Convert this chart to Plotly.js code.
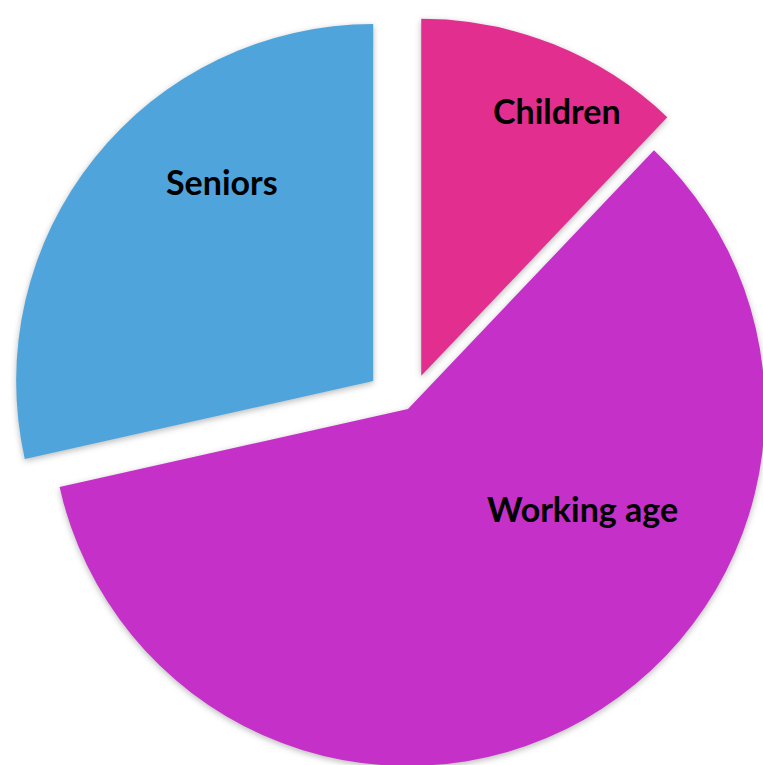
<!DOCTYPE html>
<html><head><meta charset="utf-8">
<script src="https://cdn.plot.ly/plotly-3.0.1.min.js"></script>
<style>
html,body{margin:0;padding:0;overflow:hidden;background:#fff;width:763px;height:765px}
#chart{width:816px;height:820px}
.slice path.surface{filter:drop-shadow(0px 2px 3px rgba(0,0,0,0.28));}
</style></head><body><div id="chart"></div>
<script>
const labels = ["Children", "Working age", "Seniors"];
const values = [12.1, 59.4, 28.5];
const colors = ["#E22E8F", "#C530C8", "#4FA4DB"];
const pulls = [0.1, 0, 0.125];

// layout geometry (pixels)
const W = 816, H = 820;
const R = 357;                 // pie radius
const CX = 408, CY = 409;      // unpulled centre
const maxPull = Math.max.apply(null, pulls);
const box = 2 * R * (1 + maxPull);
const labelPos = [[557, 110], [582, 508], [222, 182]];

const trace = {
  type: "pie",
  labels: labels,
  values: values,
  sort: false,
  direction: "clockwise",
  rotation: 0,
  pull: pulls,
  marker: {colors: colors, line: {width: 0}},
  textinfo: "none",
  hoverinfo: "none",
  showlegend: false,
  domain: {
    x: [(CX - box / 2) / W, (CX + box / 2) / W],
    y: [(H - CY - box / 2) / H, (H - CY + box / 2) / H]
  }
};

const annotations = labels.map((t, i) => ({
  text: "<b>" + t + "</b>",
  xref: "paper", yref: "paper",
  x: labelPos[i][0] / W, y: 1 - labelPos[i][1] / H,
  xanchor: "center", yanchor: "middle",
  showarrow: false,
  font: {family: "Lato, 'Open Sans', sans-serif", size: 34, color: "#000"}
}));

Plotly.newPlot("chart", [trace], {
  width: W, height: H,
  margin: {l: 0, r: 0, t: 0, b: 0},
  paper_bgcolor: "#fff",
  annotations: annotations
}, {staticPlot: true});
</script></body></html>
